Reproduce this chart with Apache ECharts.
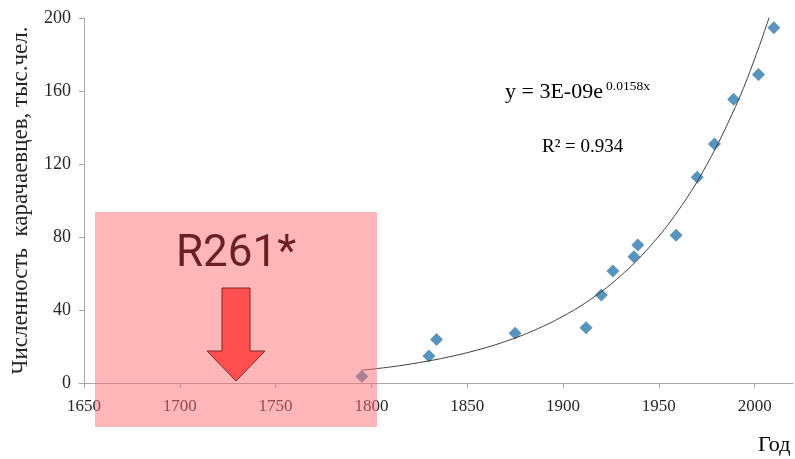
<!DOCTYPE html>
<html>
<head>
<meta charset="utf-8">
<script src="https://cdn.jsdelivr.net/npm/echarts@6/dist/echarts.min.js"></script>
<style>
html,body{margin:0;padding:0;background:#fff;}
#chart{width:795px;height:459px;}
</style>
</head>
<body>
<div id="chart"></div>
<script>
const years = [1795, 1830, 1834, 1875, 1912, 1920, 1926, 1937, 1939, 1959, 1970, 1979, 1989, 2002, 2010];
const population = [3.5, 14.8, 23.9, 27.2, 30.3, 48.2, 61.4, 69.2, 75.6, 81, 112.7, 131, 155.5, 169, 194.6];
// Trend line
const trendYears = [1795, 1810, 1825, 1840, 1855, 1870, 1885, 1900, 1915, 1930, 1945, 1960, 1975, 1990, 2000, 2010];
const trendValues = [7, 8.8, 11.2, 14.2, 18, 22.8, 28.9, 36.6, 46.3, 58.7, 74.4, 94.3, 119.6, 151.5, 177.6, 208];
// Axis ticks
const xTicks = [1650, 1700, 1750, 1800, 1850, 1900, 1950, 2000];
const yTicks = [0, 40, 80, 120, 160, 200];

const chart = echarts.init(document.getElementById('chart'), null, {renderer: 'canvas'});
const serif = 'Liberation Serif, Times New Roman, serif';
const axisColor = '#a6a6a6';

chart.setOption({
  animation: false,
  backgroundColor: '#ffffff',
  grid: {left: 84, top: 18, right: 2, bottom: 76, containLabel: false},
  xAxis: {
    type: 'value',
    min: xTicks[0],
    max: 2020,
    interval: 50,
    axisLine: {show: true, lineStyle: {color: axisColor, width: 1}},
    axisTick: {show: true, length: 5, inside: false, lineStyle: {color: axisColor}},
    splitLine: {show: false},
    axisLabel: {
      margin: 15,
      color: '#262626',
      fontFamily: serif,
      fontSize: 17,
      showMaxLabel: false,
      formatter: v => xTicks.includes(v) ? String(v) : ''
    }
  },
  yAxis: {
    type: 'value',
    min: yTicks[0],
    max: yTicks[yTicks.length - 1],
    interval: 40,
    name: 'Численность  карачаевцев, тыс.чел.',
    nameLocation: 'middle',
    nameGap: 52,
    nameTextStyle: {fontFamily: serif, fontSize: 23, color: '#262626'},
    axisLine: {show: true, lineStyle: {color: axisColor, width: 1}},
    axisTick: {show: true, length: 5, inside: false, lineStyle: {color: axisColor}},
    splitLine: {show: false},
    axisLabel: {margin: 13, color: '#262626', fontFamily: serif, fontSize: 18}
  },
  series: [
    {
      type: 'scatter',
      data: years.map((y, i) => [y, population[i]]),
      symbol: 'diamond',
      symbolSize: 13,
      itemStyle: {color: '#2e79aa'},
      z: 2
    },
    {
      type: 'line',
      data: trendYears.map((y, i) => [y, trendValues[i]]),
      smooth: 0.4,
      showSymbol: false,
      symbol: 'none',
      clip: true,
      lineStyle: {color: '#404040', width: 1},
      z: 3
    }
  ],
  graphic: [
    {
      type: 'text', left: 505, top: 81, z: 10,
      style: {text: 'y = 3E-09e', fontFamily: serif, fontSize: 22, fill: '#000'}
    },
    {
      type: 'text', left: 606, top: 79, z: 10,
      style: {text: '0.0158x', fontFamily: serif, fontSize: 13.5, fill: '#000'}
    },
    {
      type: 'text', left: 542, top: 138, z: 10,
      style: {text: 'R² = 0.934', fontFamily: serif, fontSize: 19, fill: '#000'}
    },
    {
      type: 'text', left: 758, top: 434, z: 10,
      style: {text: 'Год', fontFamily: serif, fontSize: 22, fill: '#000'}
    },
    {
      type: 'rect', z: 20,
      shape: {x: 95, y: 212, width: 282, height: 215},
      style: {fill: 'rgba(255,110,115,0.5)'}
    },
    {
      type: 'polygon', z: 21,
      shape: {points: [[222, 288], [250, 288], [250, 351], [265, 351], [236, 381], [207, 351], [222, 351]]},
      style: {fill: '#ff4f4f', stroke: '#7a2a2a', lineWidth: 1}
    },
    {
      type: 'text', z: 22, left: 176, top: 233,
      style: {text: 'R261*', fontFamily: 'Roboto, Lato, sans-serif', fontSize: 44, fill: '#6b1f22'}
    }
  ]
});
</script>
</body>
</html>
